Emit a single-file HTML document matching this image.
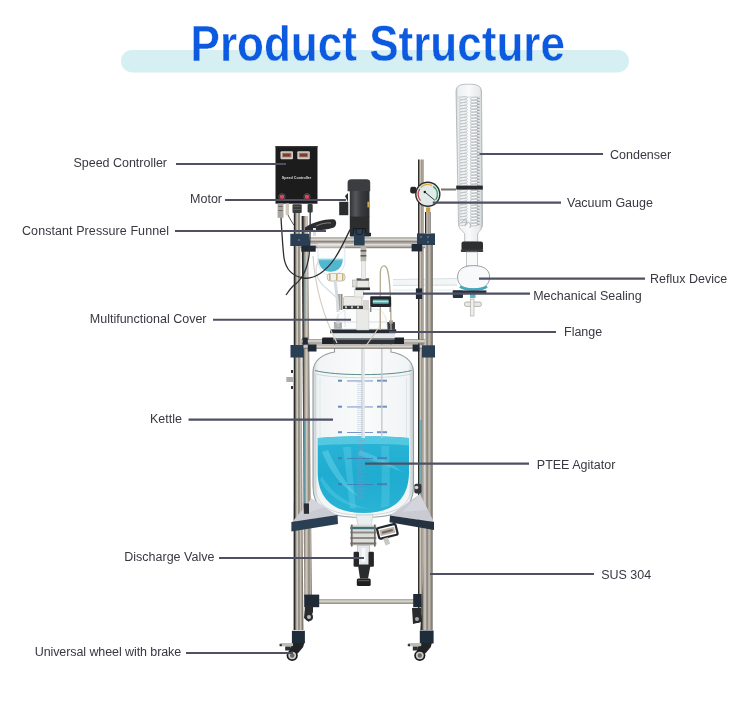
<!DOCTYPE html>
<html><head><meta charset="utf-8">
<style>
html,body{margin:0;padding:0;background:#fff;width:750px;height:709px;overflow:hidden}
svg{display:block;will-change:transform}
.lb{font-family:"Liberation Sans",sans-serif;font-size:12.5px;fill:#383842}
</style></head><body>
<svg width="750" height="709" viewBox="0 0 750 709">
<defs>
<linearGradient id="steel" x1="0" x2="1" y1="0" y2="0">
<stop offset="0" stop-color="#171716"/><stop offset="0.12" stop-color="#353330"/><stop offset="0.24" stop-color="#9d978d"/><stop offset="0.38" stop-color="#d6d1c8"/><stop offset="0.54" stop-color="#807b72"/><stop offset="0.7" stop-color="#c6c0b5"/><stop offset="0.86" stop-color="#958f85"/><stop offset="1" stop-color="#5b5751"/>
</linearGradient>
<linearGradient id="steel2" x1="0" x2="1" y1="0" y2="0">
<stop offset="0" stop-color="#151514"/><stop offset="0.16" stop-color="#42403b"/><stop offset="0.32" stop-color="#aba499"/><stop offset="0.5" stop-color="#d2ccc2"/><stop offset="0.7" stop-color="#898378"/><stop offset="0.88" stop-color="#b7b0a5"/><stop offset="1" stop-color="#6b665e"/>
</linearGradient>
<linearGradient id="steelh" x1="0" x2="0" y1="0" y2="1">
<stop offset="0" stop-color="#75716a"/><stop offset="0.35" stop-color="#e6e2dc"/><stop offset="0.7" stop-color="#b7b2aa"/><stop offset="1" stop-color="#716c65"/>
</linearGradient>
<linearGradient id="liq" x1="0" x2="0" y1="0" y2="1">
<stop offset="0" stop-color="#2ab5d6"/><stop offset="0.5" stop-color="#1eacd0"/><stop offset="1" stop-color="#2ab3d5"/>
</linearGradient>
<linearGradient id="liqh" x1="0" x2="1" y1="0" y2="0">
<stop offset="0" stop-color="#148fb0" stop-opacity="0.35"/><stop offset="0.15" stop-color="#4db6d2" stop-opacity="0"/><stop offset="0.85" stop-color="#4db6d2" stop-opacity="0"/><stop offset="1" stop-color="#148fb0" stop-opacity="0.35"/>
</linearGradient>
<linearGradient id="glass" x1="0" x2="1" y1="0" y2="0">
<stop offset="0" stop-color="#c9d1d4"/><stop offset="0.05" stop-color="#f1f4f5"/><stop offset="0.5" stop-color="#fafbfb"/><stop offset="0.95" stop-color="#f1f4f5"/><stop offset="1" stop-color="#c3cbce"/>
</linearGradient>
<linearGradient id="motor" x1="0" x2="1" y1="0" y2="0">
<stop offset="0" stop-color="#313335"/><stop offset="0.3" stop-color="#55585b"/><stop offset="0.55" stop-color="#3a3c3f"/><stop offset="1" stop-color="#2a2c2e"/>
</linearGradient>
<linearGradient id="cond" x1="0" x2="1" y1="0" y2="0">
<stop offset="0" stop-color="#c4cacd"/><stop offset="0.1" stop-color="#eef1f2"/><stop offset="0.5" stop-color="#f8f9f9"/><stop offset="0.9" stop-color="#e6e9ea"/><stop offset="1" stop-color="#b3babd"/>
</linearGradient>
<linearGradient id="haze" x1="0" x2="1" y1="0" y2="1">
<stop offset="0" stop-color="#f2f3f4" stop-opacity="0"/><stop offset="0.5" stop-color="#eceef0" stop-opacity="1"/><stop offset="1" stop-color="#f4f5f6" stop-opacity="0"/>
</linearGradient>
</defs>
<clipPath id="ctop"><rect x="0" y="0" width="750" height="50"/></clipPath>
<clipPath id="cbot"><rect x="0" y="50" width="750" height="30"/></clipPath>
<rect x="121" y="50" width="508" height="22.4" rx="11.2" fill="#d5eff3"/>
<g font-family="Liberation Sans" font-weight="bold" font-size="50" fill="#0b5ae0" stroke-width="0.45">
<text x="190.5" y="60.6" textLength="374.5" lengthAdjust="spacingAndGlyphs" stroke="#ffffff" clip-path="url(#ctop)">Product Structure</text>
<text x="190.5" y="60.6" textLength="374.5" lengthAdjust="spacingAndGlyphs" stroke="#d5eff3" clip-path="url(#cbot)">Product Structure</text>
</g>
<g id="machine">
<rect x="393" y="279" width="64" height="7" fill="#f3f6f7"/>
<path d="M393 279.5 L457 278.5 M393 285.5 L457 285" stroke="#d9e0e3" stroke-width="1" fill="none"/>
<path d="M393 290 L455 290" stroke="#e6ebed" stroke-width="1" fill="none"/>
<path d="M301.6 216 L307.8 216 L312 598 L304.3 598 Z" fill="url(#steel2)"/>
<rect x="418" y="159.5" width="5.5" height="452" fill="url(#steel2)"/>
<rect x="304" y="255" width="2" height="70" fill="#6fb3c2" opacity="0.35"/>
<rect x="303.5" y="420" width="2.2" height="90" fill="#3f9fb6" opacity="0.6"/>
<rect x="419.5" y="420" width="2.2" height="90" fill="#3f9fb6" opacity="0.6"/>
<path d="M334.5 343 L391 343 L391 352 C404 354 413.5 361 413.5 372 L413.5 486 C413.5 509 400 517.5 363 517.5 C326 517.5 313 509 313 486 L313 372 C313 361 322 354 334.5 352 Z" fill="url(#glass)" stroke="#949da1" stroke-width="1.1"/>
<path d="M315 370.5 C335 376 392 376 411.5 370.5" fill="none" stroke="#5d8c86" stroke-width="1"/>
<path d="M316 374 C335 379 392 379 411 374" fill="none" stroke="#bccfcf" stroke-width="0.7"/>
<path d="M315.6 374 L315.6 486 C315.6 506 330 515 363 515 C396 515 411 506 411 486 L411 374" fill="none" stroke="#c9d1d4" stroke-width="0.8"/>
<path d="M320 378 L320 480 M406.5 378 L406.5 480" stroke="#dfe5e7" stroke-width="1"/>
<path d="M317.7 438 C340 435.5 390 435.5 409 438 L409 472 C409 500 392 513 363.5 513 C335 513 317.7 500 317.7 472 Z" fill="url(#liq)"/>
<path d="M318 438 C340 435.5 390 435.5 409 438 L409 445.5 C390 443.5 340 443.5 318 445.5 Z" fill="#5ccbe3" opacity="0.85"/>
<path d="M343 447 C346 470 348 490 350 508 L356 509 C354 490 352 470 351 447 Z" fill="#6cd3ea" opacity="0.35"/>
<path d="M381 446 C382 470 382 490 381 508 L389 506 C390 490 390 470 389 446 Z" fill="#6cd3ea" opacity="0.3"/>
<path d="M322 452 C330 472 342 488 358 496 C346 484 336 468 328 450 Z" fill="#72d8ec" opacity="0.45"/>
<path d="M360 450 C372 455 388 460 402 472 C388 466 372 460 358 455 Z" fill="#72d8ec" opacity="0.4"/>
<path d="M320 480 C330 500 350 508 370 509 C350 505 332 495 322 476 Z" fill="#72d8ec" opacity="0.3"/>
<rect x="338" y="379.7" width="4" height="2" fill="#4a6fb3" opacity="0.8"/><rect x="347" y="380.5" width="26" height="0.9" fill="#4a6fb3" opacity="0.8"/><rect x="377" y="379.7" width="10" height="2" fill="#4a6fb3" opacity="0.75"/><rect x="338" y="405.7" width="4" height="2" fill="#4a6fb3" opacity="0.8"/><rect x="347" y="406.5" width="26" height="0.9" fill="#4a6fb3" opacity="0.8"/><rect x="377" y="405.7" width="10" height="2" fill="#4a6fb3" opacity="0.75"/><rect x="338" y="431.2" width="4" height="2" fill="#4a6fb3" opacity="0.8"/><rect x="347" y="432" width="26" height="0.9" fill="#4a6fb3" opacity="0.8"/><rect x="377" y="431.2" width="10" height="2" fill="#4a6fb3" opacity="0.75"/><rect x="338" y="457.2" width="4" height="2" fill="#4a6fb3" opacity="0.8"/><rect x="347" y="458" width="26" height="0.9" fill="#4a6fb3" opacity="0.8"/><rect x="377" y="457.2" width="10" height="2" fill="#4a6fb3" opacity="0.75"/><rect x="338" y="483.2" width="4" height="2" fill="#4a6fb3" opacity="0.8"/><rect x="347" y="484" width="26" height="0.9" fill="#4a6fb3" opacity="0.8"/><rect x="377" y="483.2" width="10" height="2" fill="#4a6fb3" opacity="0.75"/><rect x="357" y="382" width="5" height="0.5" fill="#7f9ccc" opacity="0.55"/><rect x="357" y="384" width="8" height="0.5" fill="#7f9ccc" opacity="0.55"/><rect x="357" y="386" width="5" height="0.5" fill="#7f9ccc" opacity="0.55"/><rect x="357" y="388" width="8" height="0.5" fill="#7f9ccc" opacity="0.55"/><rect x="357" y="390" width="5" height="0.5" fill="#7f9ccc" opacity="0.55"/><rect x="357" y="392" width="8" height="0.5" fill="#7f9ccc" opacity="0.55"/><rect x="357" y="394" width="5" height="0.5" fill="#7f9ccc" opacity="0.55"/><rect x="357" y="396" width="8" height="0.5" fill="#7f9ccc" opacity="0.55"/><rect x="357" y="398" width="5" height="0.5" fill="#7f9ccc" opacity="0.55"/><rect x="357" y="400" width="8" height="0.5" fill="#7f9ccc" opacity="0.55"/><rect x="357" y="402" width="5" height="0.5" fill="#7f9ccc" opacity="0.55"/><rect x="357" y="404" width="8" height="0.5" fill="#7f9ccc" opacity="0.55"/><rect x="357" y="406" width="5" height="0.5" fill="#7f9ccc" opacity="0.55"/><rect x="357" y="408" width="8" height="0.5" fill="#7f9ccc" opacity="0.55"/><rect x="357" y="410" width="5" height="0.5" fill="#7f9ccc" opacity="0.55"/><rect x="357" y="412" width="8" height="0.5" fill="#7f9ccc" opacity="0.55"/><rect x="357" y="414" width="5" height="0.5" fill="#7f9ccc" opacity="0.55"/><rect x="357" y="416" width="8" height="0.5" fill="#7f9ccc" opacity="0.55"/><rect x="357" y="418" width="5" height="0.5" fill="#7f9ccc" opacity="0.55"/><rect x="357" y="420" width="8" height="0.5" fill="#7f9ccc" opacity="0.55"/><rect x="357" y="422" width="5" height="0.5" fill="#7f9ccc" opacity="0.55"/><rect x="357" y="424" width="8" height="0.5" fill="#7f9ccc" opacity="0.55"/><rect x="357" y="426" width="5" height="0.5" fill="#7f9ccc" opacity="0.55"/><rect x="357" y="428" width="8" height="0.5" fill="#7f9ccc" opacity="0.55"/><rect x="357" y="430" width="5" height="0.5" fill="#7f9ccc" opacity="0.55"/><rect x="357" y="432" width="8" height="0.5" fill="#7f9ccc" opacity="0.55"/><rect x="357" y="434" width="5" height="0.5" fill="#7f9ccc" opacity="0.55"/><rect x="357" y="436" width="8" height="0.5" fill="#7f9ccc" opacity="0.55"/><rect x="357" y="438" width="5" height="0.5" fill="#7f9ccc" opacity="0.55"/><rect x="357" y="440" width="8" height="0.5" fill="#7f9ccc" opacity="0.55"/><rect x="357" y="442" width="5" height="0.5" fill="#7f9ccc" opacity="0.55"/><rect x="357" y="444" width="8" height="0.5" fill="#7f9ccc" opacity="0.55"/><rect x="357" y="446" width="5" height="0.5" fill="#7f9ccc" opacity="0.55"/><rect x="357" y="448" width="8" height="0.5" fill="#7f9ccc" opacity="0.55"/><rect x="357" y="450" width="5" height="0.5" fill="#7f9ccc" opacity="0.55"/><rect x="357" y="452" width="8" height="0.5" fill="#7f9ccc" opacity="0.55"/><rect x="357" y="454" width="5" height="0.5" fill="#7f9ccc" opacity="0.55"/><rect x="357" y="456" width="8" height="0.5" fill="#7f9ccc" opacity="0.55"/><rect x="357" y="458" width="5" height="0.5" fill="#7f9ccc" opacity="0.55"/><rect x="357" y="460" width="8" height="0.5" fill="#7f9ccc" opacity="0.55"/><rect x="357" y="462" width="5" height="0.5" fill="#7f9ccc" opacity="0.55"/><rect x="357" y="464" width="8" height="0.5" fill="#7f9ccc" opacity="0.55"/><rect x="357" y="466" width="5" height="0.5" fill="#7f9ccc" opacity="0.55"/><rect x="357" y="468" width="8" height="0.5" fill="#7f9ccc" opacity="0.55"/><rect x="357" y="470" width="5" height="0.5" fill="#7f9ccc" opacity="0.55"/><rect x="357" y="472" width="8" height="0.5" fill="#7f9ccc" opacity="0.55"/><rect x="357" y="474" width="5" height="0.5" fill="#7f9ccc" opacity="0.55"/><rect x="357" y="476" width="8" height="0.5" fill="#7f9ccc" opacity="0.55"/><rect x="357" y="478" width="5" height="0.5" fill="#7f9ccc" opacity="0.55"/><rect x="357" y="480" width="8" height="0.5" fill="#7f9ccc" opacity="0.55"/><rect x="357" y="482" width="5" height="0.5" fill="#7f9ccc" opacity="0.55"/><rect x="357" y="484" width="8" height="0.5" fill="#7f9ccc" opacity="0.55"/><rect x="357" y="486" width="5" height="0.5" fill="#7f9ccc" opacity="0.55"/><rect x="357" y="488" width="8" height="0.5" fill="#7f9ccc" opacity="0.55"/><rect x="357" y="490" width="5" height="0.5" fill="#7f9ccc" opacity="0.55"/><rect x="357" y="492" width="8" height="0.5" fill="#7f9ccc" opacity="0.55"/><rect x="357" y="494" width="5" height="0.5" fill="#7f9ccc" opacity="0.55"/><rect x="357" y="496" width="8" height="0.5" fill="#7f9ccc" opacity="0.55"/><rect x="357" y="498" width="5" height="0.5" fill="#7f9ccc" opacity="0.55"/>
<rect x="361.5" y="343" width="3.5" height="95" fill="#e3e7e8" opacity="0.9"/>
<rect x="361.5" y="343" width="0.8" height="95" fill="#b3bcbf" opacity="0.9"/>
<rect x="381" y="343" width="1.6" height="95" fill="#c2c8ca" opacity="0.85"/>
<rect x="414.3" y="483.8" width="7.2" height="9.7" rx="2" fill="#33363a"/>
<circle cx="416.5" cy="487.5" r="1.8" fill="#d9d9d9"/>
<rect x="300" y="237.5" width="125" height="4.5" fill="url(#steelh)"/>
<rect x="300" y="242.3" width="125" height="5.9" fill="url(#steelh)"/>
<rect x="300" y="339.3" width="125" height="4.3" fill="url(#steelh)"/>
<rect x="300" y="344.5" width="125" height="4.3" fill="url(#steelh)"/>
<rect x="312" y="599.4" width="106" height="4.4" fill="url(#steelh)"/>
<path d="M293.8 212 L300.2 212 L303.4 630 L293.6 630 Z" fill="url(#steel)"/>
<path d="M425.2 245 L432.8 245 L432.6 630 L420.4 630 L424 560 Z" fill="url(#steel)"/>
<rect x="290.3" y="233.8" width="18.7" height="12.2" fill="#2a3f54"/>
<rect x="301.3" y="245.7" width="14.4" height="6" fill="#1f2a36"/>
<rect x="417" y="233.4" width="18" height="11.6" fill="#2a3f54"/>
<rect x="411.6" y="244" width="10.6" height="7.4" fill="#1f2a36"/>
<circle cx="421" cy="237" r="0.8" fill="#8899aa"/><circle cx="428" cy="237" r="0.8" fill="#8899aa"/><circle cx="428" cy="242" r="0.8" fill="#8899aa"/>
<circle cx="299" cy="240" r="0.8" fill="#8899aa"/>
<rect x="290.5" y="345" width="13" height="12.5" fill="#2a3f54"/>
<rect x="307.8" y="344.5" width="8.7" height="7" fill="#1f2a36"/>
<rect x="302.6" y="337.5" width="5.2" height="7" fill="#1f2a36"/>
<rect x="422" y="345.3" width="13" height="12.2" fill="#2a3f54"/>
<rect x="412.6" y="344.5" width="7" height="7" fill="#1f2a36"/>
<rect x="304.2" y="594.6" width="15" height="12.6" fill="#1f2a36"/>
<rect x="413.2" y="594" width="8.4" height="13.2" fill="#1f2a36"/>
<rect x="415.9" y="288.4" width="6.3" height="10.6" fill="#1f2a36"/>
<path d="M311.4 498.6 L337.5 515.4 L292.2 522 Z" fill="#c9cad2"/><path d="M311.4 498.6 L325 507 L300 515 Z" fill="#d8d9df" opacity="0.7"/>
<path d="M419.8 494 L434 522 L390 515.5 Z" fill="#c9cad2"/><path d="M419.8 494 L428 510 L402 512 Z" fill="#d8d9df" opacity="0.7"/>
<rect x="303.8" y="503.4" width="5.2" height="10.4" fill="#2a2e33"/>
<path d="M291.4 522 L337.5 515 L338 524 L291.4 531.6 Z" fill="#2a3f54"/>
<path d="M390 515.5 L434 522 L434 530 L389.5 522.3 Z" fill="#273240"/>
<path d="M356 515 L372.9 515 L371 526 L358 526 Z" fill="#e9eef0" stroke="#b9c2c6" stroke-width="0.6"/>
<rect x="350.3" y="524.6" width="26" height="21" fill="#dcdcd8"/>
<rect x="350.3" y="526.8" width="26" height="2.4" fill="#3e6e78"/>
<rect x="350.3" y="531.5" width="26" height="2" fill="#8e8b85"/>
<rect x="350.3" y="537" width="26" height="2" fill="#8e8b85"/>
<rect x="350.3" y="542.5" width="26" height="2" fill="#77746e"/>
<rect x="351" y="524.6" width="1.6" height="22" fill="#6e6b66"/><rect x="374" y="524.6" width="1.6" height="22" fill="#6e6b66"/>
<rect x="357.6" y="545.5" width="11.9" height="20" fill="#e3e7e9" stroke="#a9b0b3" stroke-width="0.6"/>
<rect x="361.5" y="548" width="4" height="14" fill="#f6f8f8"/>
<rect x="353.6" y="551.7" width="5.4" height="15" rx="1.2" fill="#252628"/>
<rect x="368.5" y="551.7" width="5.4" height="15" rx="1.2" fill="#252628"/>
<path d="M357.9 564.5 L370.7 564.5 L368 578.4 L360 578.4 Z" fill="#2a2b2d"/>
<rect x="356.8" y="578.4" width="13.9" height="7.5" rx="1.5" fill="#1e1f21"/>
<rect x="358" y="580" width="11.5" height="1.2" fill="#555"/>
<g transform="rotate(-14 387 532)"><rect x="378" y="526" width="19" height="11" rx="1.5" fill="none" stroke="#23272c" stroke-width="2.2"/><rect x="380" y="528.5" width="15" height="6" fill="#b9b5ae"/><rect x="382" y="530.5" width="11" height="2" fill="#7b6356"/></g>
<rect x="384" y="538" width="5" height="7" fill="#c9c9c4" transform="rotate(-20 386 541)"/>
<rect x="291.9" y="630.8" width="13" height="12.5" fill="#1f2c3a"/>
<rect x="419.8" y="630.5" width="13.8" height="13" fill="#1f2c3a"/>
<path d="M291.7 643 L304.2 643 L303.2 647 L298.2 653 L293.2 656 L289.2 651 Z" fill="#222325"/>
<rect x="279.6" y="643" width="13.5" height="3.2" rx="1.2" fill="#bdbcb8"/>
<rect x="279.6" y="644.2" width="2.2" height="2" fill="#2a2a2a"/>
<rect x="285.2" y="646.5" width="5" height="4" fill="#2e2f31"/>
<ellipse cx="292.2" cy="655.5" rx="5.6" ry="5.4" fill="#1c1d1f"/>
<ellipse cx="292.2" cy="655.5" rx="3.9" ry="3.7" fill="#cfccc5"/>
<circle cx="292.2" cy="655.5" r="2.2" fill="#6a6966"/>
<path d="M419.3 643 L431.8 643 L430.8 647 L425.8 653 L420.8 656 L416.8 651 Z" fill="#222325"/>
<rect x="407.8" y="643" width="13.5" height="3.2" rx="1.2" fill="#bdbcb8"/>
<rect x="407.8" y="644.2" width="2.2" height="2" fill="#2a2a2a"/>
<rect x="412.8" y="646.5" width="5" height="4" fill="#2e2f31"/>
<ellipse cx="419.8" cy="655.5" rx="5.6" ry="5.4" fill="#1c1d1f"/>
<ellipse cx="419.8" cy="655.5" rx="3.9" ry="3.7" fill="#cfccc5"/>
<circle cx="419.8" cy="655.5" r="2.2" fill="#6a6966"/>
<path d="M305 606 L313 606 L313 612 L309 622 L304 618 Z" fill="#2a2b2d"/>
<circle cx="309" cy="617" r="4" fill="#2a2b2d"/><circle cx="309" cy="617" r="2" fill="#bbb"/>
<path d="M412 608 L421 608 L421 622 L413 624 Z" fill="#2a2b2d"/>
<circle cx="417" cy="619" r="4" fill="#2a2b2d"/><circle cx="417" cy="619" r="2" fill="#aaa"/>
<rect x="286.3" y="377" width="7" height="5" fill="#b0ada6"/><rect x="291" y="370" width="2" height="3" fill="#333"/><rect x="291" y="386" width="2" height="3" fill="#333"/>
<path d="M322 338.2 L400 338.2 L400 343.9 L322 343.9 Z" fill="#2f3338"/>
<path d="M330 339.5 L395 339.5" stroke="#a36a4a" stroke-width="0.9"/>
<rect x="322.5" y="337.5" width="10.5" height="6.5" fill="#1f2226"/>
<rect x="394.5" y="337.5" width="9.5" height="6.5" fill="#1f2226"/>
<rect x="333" y="333" width="62" height="5.2" fill="#e3e8ea"/>
<rect x="330.2" y="329.3" width="66" height="3.9" fill="#262b31"/>
<rect x="334" y="322" width="8" height="7.5" rx="1" fill="#3b3d40"/><rect x="336" y="320.5" width="4" height="3" fill="#999"/>
<rect x="387" y="322" width="8" height="7.5" rx="1" fill="#3b3d40"/><rect x="389" y="320.5" width="4" height="3" fill="#999"/>
<path d="M381 324 C376 332 370 340 365.6 346.4" fill="none" stroke="#cfc6b3" stroke-width="1.1"/>
<path d="M334 329 C334 318 340 310 350 309 L376 309 C384 310 387.3 318 387.3 329 Z" fill="#f8fafa" fill-opacity="0.6" stroke="#d0d7da" stroke-width="0.6"/>
<path d="M338 327 L338 314 M345 327 L345 311 M380 327 L380 312" stroke="#d3d9dc" stroke-width="0.8"/>
<path d="M336 322 L386 322" stroke="#d2d9dc" stroke-width="0.8"/>
<rect x="356.8" y="309" width="12.1" height="21" fill="#e9eae7" stroke="#bfc2c2" stroke-width="0.5"/>
<path d="M343.5 298 C343.5 296.5 345 296.5 347 296.5 L362 296.5 L362 306 L343.5 306 Z" fill="#ecebe7" stroke="#9f9b94" stroke-width="0.5"/>
<rect x="343" y="305.8" width="20" height="3.2" fill="#3a3c3f"/>
<rect x="345" y="306.3" width="2" height="2" fill="#ccc"/><rect x="351" y="306.3" width="2" height="2" fill="#ccc"/><rect x="357" y="306.3" width="2" height="2" fill="#ccc"/>
<rect x="337.8" y="294" width="2" height="16" fill="#8f8a80"/><rect x="340.5" y="294" width="2" height="16" fill="#8f8a80"/>
<rect x="363" y="300" width="6" height="10" fill="#d8d6d0"/>
<rect x="354.3" y="289" width="9.5" height="8" fill="#eeeeea" stroke="#b9b9b4" stroke-width="0.4"/>
<rect x="356.8" y="278.5" width="12.1" height="9.5" fill="#e8e8e4" stroke="#9f9b94" stroke-width="0.5"/>
<rect x="356.8" y="278.5" width="12.1" height="2.2" fill="#55575a"/>
<rect x="355.5" y="287.5" width="14.5" height="2.6" fill="#2e3033"/>
<rect x="352.4" y="280" width="4.6" height="7" fill="#dcdcd8" stroke="#8d8a84" stroke-width="0.4"/>
<path d="M380.3 330 L380.3 274 C380.3 264 386 264 387.5 270 C390 280 391 300 391 330" fill="none" stroke="#b3a98f" stroke-width="1.3"/>
<rect x="370.2" y="296.3" width="20.9" height="10.7" rx="1.2" fill="#23272c"/>
<rect x="372.8" y="299.5" width="15.8" height="4.3" fill="#5aaaa8"/>
<rect x="372.8" y="300.8" width="15.8" height="1.4" fill="#bfe0de"/>
<rect x="370" y="307" width="1.4" height="5" fill="#888"/><rect x="389.5" y="307" width="1.4" height="5" fill="#888"/>
<rect x="360.6" y="247" width="5.7" height="14.3" fill="#b9b6b0"/>
<rect x="360.6" y="250" width="5.7" height="1.6" fill="#5e5b56"/><rect x="360.6" y="255" width="5.7" height="1.6" fill="#5e5b56"/>
<rect x="361.3" y="261" width="4.4" height="18" fill="#ecedea" stroke="#c6c6c2" stroke-width="0.5"/>
<path d="M318 262 C314 270 316 280 326 288 L337 298" fill="none" stroke="#d5dcdf" stroke-width="1.1"/>
<path d="M318 243 L318 262 C319 272 327 275.5 331.5 275.5 C336 275.5 344 272 345 262 L344.5 243" fill="#f6f9fa" fill-opacity="0.35" stroke="#d3dadd" stroke-width="0.7"/>
<path d="M318.4 258.8 L342.8 258.8 C342.5 268 337 271.8 330.6 271.8 C324 271.8 318.8 268 318.4 258.8 Z" fill="#52b6cf"/>
<path d="M319 259.6 L342.5 259.6" stroke="#93d3e2" stroke-width="1.2"/>
<rect x="327.3" y="273.4" width="17.7" height="7.6" rx="3" fill="#f2f1ec" stroke="#aaa392" stroke-width="0.7"/>
<rect x="329" y="274" width="1.6" height="6.5" fill="#c9b27a"/><rect x="336" y="274" width="1.6" height="6.5" fill="#c9b27a"/><rect x="342" y="274" width="1.4" height="6.5" fill="#c9b27a"/>
<path d="M335 281 L337 296 L338 312" fill="none" stroke="#d5dcdf" stroke-width="3"/>
<path d="M305 227.5 C312 222 326 218.8 333 219.2 C337 219.6 337 225 334 227.5 C326 230.5 314 231 305 230 Z" fill="#2a2c2e"/>
<path d="M316 226 C321 223.5 327 222.5 331 223" stroke="#8a8a8a" stroke-width="0.9" fill="none"/>
<rect x="313" y="228" width="3" height="8" fill="#ddd"/>
<path d="M313 256 C315 285 321 312 337 343" fill="none" stroke="#d6d0c2" stroke-width="1.2"/>
<rect x="275.5" y="146" width="42" height="57.7" fill="#1c1c1d"/>
<rect x="275.5" y="146" width="42" height="1.2" fill="#3a3a3a"/>
<rect x="280.5" y="151.3" width="12.5" height="7.9" rx="1" fill="#cfcdca"/>
<rect x="282.0" y="152.8" width="9.5" height="4.6" fill="#b08878"/>
<rect x="283.0" y="153.6" width="7.5" height="3" fill="#7a3e30"/>
<rect x="297.3" y="151.3" width="12.5" height="7.9" rx="1" fill="#cfcdca"/>
<rect x="298.8" y="152.8" width="9.5" height="4.6" fill="#b08878"/>
<rect x="299.8" y="153.6" width="7.5" height="3" fill="#7a3e30"/>
<text x="296.5" y="179.2" font-family="Liberation Sans" font-size="4.4" fill="#dcdcdc" text-anchor="middle" font-weight="bold" textLength="29.5" lengthAdjust="spacingAndGlyphs">Speed Controller</text>
<circle cx="282" cy="196.8" r="2.3" fill="#e24455"/><circle cx="282" cy="196.8" r="3.2" fill="none" stroke="#5a5f62" stroke-width="0.8"/>
<circle cx="307" cy="196.8" r="2.3" fill="#e24455"/><circle cx="307" cy="196.8" r="3.2" fill="none" stroke="#5a5f62" stroke-width="0.8"/>
<rect x="277.6" y="203.4" width="5.9" height="14.4" fill="#a7a49d"/><rect x="278.5" y="206" width="4" height="1" fill="#666"/><rect x="278.5" y="210" width="4" height="1" fill="#666"/>
<rect x="285.6" y="203.4" width="3.4" height="11.6" fill="#cfc8b6"/>
<rect x="292.5" y="204.2" width="9.2" height="8.7" rx="1" fill="#3a3b3c"/><rect x="293.5" y="206" width="7" height="0.8" fill="#666"/><rect x="293.5" y="209" width="7" height="0.8" fill="#666"/>
<path d="M288 215 C290 219 292 222 294 225.3" stroke="#3a3a3a" stroke-width="0.9" fill="none"/>
<rect x="307.6" y="204" width="5.1" height="8.5" rx="1" fill="#3a3b3c"/>
<path d="M281 217.8 C282 235 283 250 284 258 C286 270 292 276 303 278 C315 280 327 270 335 258 C341 249 346 238 350 229.6" fill="none" stroke="#2d2e30" stroke-width="1.3"/>
<path d="M310.2 212 C310.2 230 310 245 309 256 C307 270 302 280 293 286 C290 289 288 292 286 295" fill="none" stroke="#2d2e30" stroke-width="1.3"/>
<path d="M345 196 L348 193 L348 202 Z" fill="#2a2a2a"/>
<rect x="339.2" y="201.8" width="9.1" height="13.4" fill="#2b2c2e"/>
<path d="M347.6 183 C347.6 180 349 179.2 352 179.2 L366 179.2 C369 179.2 370.2 180 370.2 183 L370.2 191.2 L347.6 191.2 Z" fill="#3b3d40"/>
<rect x="349.8" y="191" width="19.7" height="26" fill="url(#motor)"/>
<rect x="367.4" y="201.7" width="2" height="5.7" fill="#c9a64a"/>
<rect x="349.8" y="216.6" width="19.7" height="19.7" fill="#2c2d2f"/>
<rect x="353" y="228" width="13" height="8" fill="#1b1c1e"/>
<rect x="350.5" y="232.8" width="20.5" height="3.5" fill="#1e2a36"/>
<rect x="354" y="229.3" width="10.6" height="16.2" fill="#2a3f54"/>
<path d="M356 229.3 L356 233 C356 235 362.6 235 362.6 233 L362.6 229.3" fill="none" stroke="#111" stroke-width="0.8"/>
<path d="M456 92 C456 85.5 460 84.2 468.5 84.2 C477 84.2 481.5 85.5 481.5 92 L482.5 224 C482.5 230 477.7 232 477.7 234 L477.7 242 L464.7 242 L464.7 234 C464.7 232 458.5 230 458.5 224 Z" fill="url(#cond)" stroke="#aab2b5" stroke-width="0.8"/>
<ellipse cx="463.2" cy="98" rx="4.3" ry="1.35" fill="#f7f8f8" stroke="#b4bbbe" stroke-width="0.75" transform="rotate(-6 463.2 98)"/><ellipse cx="474" cy="98.6" rx="4.3" ry="1.35" fill="#f7f8f8" stroke="#aeb5b8" stroke-width="0.75" transform="rotate(-6 474 98.6)"/><rect x="477" y="97.6" width="2.8" height="1.5" fill="#959da1" opacity="0.7"/><ellipse cx="463.2" cy="101" rx="4.3" ry="1.35" fill="#f7f8f8" stroke="#b4bbbe" stroke-width="0.75" transform="rotate(-6 463.2 101)"/><ellipse cx="474" cy="101.6" rx="4.3" ry="1.35" fill="#f7f8f8" stroke="#aeb5b8" stroke-width="0.75" transform="rotate(-6 474 101.6)"/><rect x="477" y="100.6" width="2.8" height="1.5" fill="#959da1" opacity="0.7"/><ellipse cx="463.2" cy="104" rx="4.3" ry="1.35" fill="#f7f8f8" stroke="#b4bbbe" stroke-width="0.75" transform="rotate(-6 463.2 104)"/><ellipse cx="474" cy="104.6" rx="4.3" ry="1.35" fill="#f7f8f8" stroke="#aeb5b8" stroke-width="0.75" transform="rotate(-6 474 104.6)"/><rect x="477" y="103.6" width="2.8" height="1.5" fill="#959da1" opacity="0.7"/><ellipse cx="463.2" cy="107" rx="4.3" ry="1.35" fill="#f7f8f8" stroke="#b4bbbe" stroke-width="0.75" transform="rotate(-6 463.2 107)"/><ellipse cx="474" cy="107.6" rx="4.3" ry="1.35" fill="#f7f8f8" stroke="#aeb5b8" stroke-width="0.75" transform="rotate(-6 474 107.6)"/><rect x="477" y="106.6" width="2.8" height="1.5" fill="#959da1" opacity="0.7"/><ellipse cx="463.2" cy="110" rx="4.3" ry="1.35" fill="#f7f8f8" stroke="#b4bbbe" stroke-width="0.75" transform="rotate(-6 463.2 110)"/><ellipse cx="474" cy="110.6" rx="4.3" ry="1.35" fill="#f7f8f8" stroke="#aeb5b8" stroke-width="0.75" transform="rotate(-6 474 110.6)"/><rect x="477" y="109.6" width="2.8" height="1.5" fill="#959da1" opacity="0.7"/><ellipse cx="463.2" cy="113" rx="4.3" ry="1.35" fill="#f7f8f8" stroke="#b4bbbe" stroke-width="0.75" transform="rotate(-6 463.2 113)"/><ellipse cx="474" cy="113.6" rx="4.3" ry="1.35" fill="#f7f8f8" stroke="#aeb5b8" stroke-width="0.75" transform="rotate(-6 474 113.6)"/><rect x="477" y="112.6" width="2.8" height="1.5" fill="#959da1" opacity="0.7"/><ellipse cx="463.2" cy="116" rx="4.3" ry="1.35" fill="#f7f8f8" stroke="#b4bbbe" stroke-width="0.75" transform="rotate(-6 463.2 116)"/><ellipse cx="474" cy="116.6" rx="4.3" ry="1.35" fill="#f7f8f8" stroke="#aeb5b8" stroke-width="0.75" transform="rotate(-6 474 116.6)"/><rect x="477" y="115.6" width="2.8" height="1.5" fill="#959da1" opacity="0.7"/><ellipse cx="463.2" cy="119" rx="4.3" ry="1.35" fill="#f7f8f8" stroke="#b4bbbe" stroke-width="0.75" transform="rotate(-6 463.2 119)"/><ellipse cx="474" cy="119.6" rx="4.3" ry="1.35" fill="#f7f8f8" stroke="#aeb5b8" stroke-width="0.75" transform="rotate(-6 474 119.6)"/><rect x="477" y="118.6" width="2.8" height="1.5" fill="#959da1" opacity="0.7"/><ellipse cx="463.2" cy="122" rx="4.3" ry="1.35" fill="#f7f8f8" stroke="#b4bbbe" stroke-width="0.75" transform="rotate(-6 463.2 122)"/><ellipse cx="474" cy="122.6" rx="4.3" ry="1.35" fill="#f7f8f8" stroke="#aeb5b8" stroke-width="0.75" transform="rotate(-6 474 122.6)"/><rect x="477" y="121.6" width="2.8" height="1.5" fill="#959da1" opacity="0.7"/><ellipse cx="463.2" cy="125" rx="4.3" ry="1.35" fill="#f7f8f8" stroke="#b4bbbe" stroke-width="0.75" transform="rotate(-6 463.2 125)"/><ellipse cx="474" cy="125.6" rx="4.3" ry="1.35" fill="#f7f8f8" stroke="#aeb5b8" stroke-width="0.75" transform="rotate(-6 474 125.6)"/><rect x="477" y="124.6" width="2.8" height="1.5" fill="#959da1" opacity="0.7"/><ellipse cx="463.2" cy="128" rx="4.3" ry="1.35" fill="#f7f8f8" stroke="#b4bbbe" stroke-width="0.75" transform="rotate(-6 463.2 128)"/><ellipse cx="474" cy="128.6" rx="4.3" ry="1.35" fill="#f7f8f8" stroke="#aeb5b8" stroke-width="0.75" transform="rotate(-6 474 128.6)"/><rect x="477" y="127.6" width="2.8" height="1.5" fill="#959da1" opacity="0.7"/><ellipse cx="463.2" cy="131" rx="4.3" ry="1.35" fill="#f7f8f8" stroke="#b4bbbe" stroke-width="0.75" transform="rotate(-6 463.2 131)"/><ellipse cx="474" cy="131.6" rx="4.3" ry="1.35" fill="#f7f8f8" stroke="#aeb5b8" stroke-width="0.75" transform="rotate(-6 474 131.6)"/><rect x="477" y="130.6" width="2.8" height="1.5" fill="#959da1" opacity="0.7"/><ellipse cx="463.2" cy="134" rx="4.3" ry="1.35" fill="#f7f8f8" stroke="#b4bbbe" stroke-width="0.75" transform="rotate(-6 463.2 134)"/><ellipse cx="474" cy="134.6" rx="4.3" ry="1.35" fill="#f7f8f8" stroke="#aeb5b8" stroke-width="0.75" transform="rotate(-6 474 134.6)"/><rect x="477" y="133.6" width="2.8" height="1.5" fill="#959da1" opacity="0.7"/><ellipse cx="463.2" cy="137" rx="4.3" ry="1.35" fill="#f7f8f8" stroke="#b4bbbe" stroke-width="0.75" transform="rotate(-6 463.2 137)"/><ellipse cx="474" cy="137.6" rx="4.3" ry="1.35" fill="#f7f8f8" stroke="#aeb5b8" stroke-width="0.75" transform="rotate(-6 474 137.6)"/><rect x="477" y="136.6" width="2.8" height="1.5" fill="#959da1" opacity="0.7"/><ellipse cx="463.2" cy="140" rx="4.3" ry="1.35" fill="#f7f8f8" stroke="#b4bbbe" stroke-width="0.75" transform="rotate(-6 463.2 140)"/><ellipse cx="474" cy="140.6" rx="4.3" ry="1.35" fill="#f7f8f8" stroke="#aeb5b8" stroke-width="0.75" transform="rotate(-6 474 140.6)"/><rect x="477" y="139.6" width="2.8" height="1.5" fill="#959da1" opacity="0.7"/><ellipse cx="463.2" cy="143" rx="4.3" ry="1.35" fill="#f7f8f8" stroke="#b4bbbe" stroke-width="0.75" transform="rotate(-6 463.2 143)"/><ellipse cx="474" cy="143.6" rx="4.3" ry="1.35" fill="#f7f8f8" stroke="#aeb5b8" stroke-width="0.75" transform="rotate(-6 474 143.6)"/><rect x="477" y="142.6" width="2.8" height="1.5" fill="#959da1" opacity="0.7"/><ellipse cx="463.2" cy="146" rx="4.3" ry="1.35" fill="#f7f8f8" stroke="#b4bbbe" stroke-width="0.75" transform="rotate(-6 463.2 146)"/><ellipse cx="474" cy="146.6" rx="4.3" ry="1.35" fill="#f7f8f8" stroke="#aeb5b8" stroke-width="0.75" transform="rotate(-6 474 146.6)"/><rect x="477" y="145.6" width="2.8" height="1.5" fill="#959da1" opacity="0.7"/><ellipse cx="463.2" cy="149" rx="4.3" ry="1.35" fill="#f7f8f8" stroke="#b4bbbe" stroke-width="0.75" transform="rotate(-6 463.2 149)"/><ellipse cx="474" cy="149.6" rx="4.3" ry="1.35" fill="#f7f8f8" stroke="#aeb5b8" stroke-width="0.75" transform="rotate(-6 474 149.6)"/><rect x="477" y="148.6" width="2.8" height="1.5" fill="#959da1" opacity="0.7"/><ellipse cx="463.2" cy="152" rx="4.3" ry="1.35" fill="#f7f8f8" stroke="#b4bbbe" stroke-width="0.75" transform="rotate(-6 463.2 152)"/><ellipse cx="474" cy="152.6" rx="4.3" ry="1.35" fill="#f7f8f8" stroke="#aeb5b8" stroke-width="0.75" transform="rotate(-6 474 152.6)"/><rect x="477" y="151.6" width="2.8" height="1.5" fill="#959da1" opacity="0.7"/><ellipse cx="463.2" cy="155" rx="4.3" ry="1.35" fill="#f7f8f8" stroke="#b4bbbe" stroke-width="0.75" transform="rotate(-6 463.2 155)"/><ellipse cx="474" cy="155.6" rx="4.3" ry="1.35" fill="#f7f8f8" stroke="#aeb5b8" stroke-width="0.75" transform="rotate(-6 474 155.6)"/><rect x="477" y="154.6" width="2.8" height="1.5" fill="#959da1" opacity="0.7"/><ellipse cx="463.2" cy="158" rx="4.3" ry="1.35" fill="#f7f8f8" stroke="#b4bbbe" stroke-width="0.75" transform="rotate(-6 463.2 158)"/><ellipse cx="474" cy="158.6" rx="4.3" ry="1.35" fill="#f7f8f8" stroke="#aeb5b8" stroke-width="0.75" transform="rotate(-6 474 158.6)"/><rect x="477" y="157.6" width="2.8" height="1.5" fill="#959da1" opacity="0.7"/><ellipse cx="463.2" cy="161" rx="4.3" ry="1.35" fill="#f7f8f8" stroke="#b4bbbe" stroke-width="0.75" transform="rotate(-6 463.2 161)"/><ellipse cx="474" cy="161.6" rx="4.3" ry="1.35" fill="#f7f8f8" stroke="#aeb5b8" stroke-width="0.75" transform="rotate(-6 474 161.6)"/><rect x="477" y="160.6" width="2.8" height="1.5" fill="#959da1" opacity="0.7"/><ellipse cx="463.2" cy="164" rx="4.3" ry="1.35" fill="#f7f8f8" stroke="#b4bbbe" stroke-width="0.75" transform="rotate(-6 463.2 164)"/><ellipse cx="474" cy="164.6" rx="4.3" ry="1.35" fill="#f7f8f8" stroke="#aeb5b8" stroke-width="0.75" transform="rotate(-6 474 164.6)"/><rect x="477" y="163.6" width="2.8" height="1.5" fill="#959da1" opacity="0.7"/><ellipse cx="463.2" cy="167" rx="4.3" ry="1.35" fill="#f7f8f8" stroke="#b4bbbe" stroke-width="0.75" transform="rotate(-6 463.2 167)"/><ellipse cx="474" cy="167.6" rx="4.3" ry="1.35" fill="#f7f8f8" stroke="#aeb5b8" stroke-width="0.75" transform="rotate(-6 474 167.6)"/><rect x="477" y="166.6" width="2.8" height="1.5" fill="#959da1" opacity="0.7"/><ellipse cx="463.2" cy="170" rx="4.3" ry="1.35" fill="#f7f8f8" stroke="#b4bbbe" stroke-width="0.75" transform="rotate(-6 463.2 170)"/><ellipse cx="474" cy="170.6" rx="4.3" ry="1.35" fill="#f7f8f8" stroke="#aeb5b8" stroke-width="0.75" transform="rotate(-6 474 170.6)"/><rect x="477" y="169.6" width="2.8" height="1.5" fill="#959da1" opacity="0.7"/><ellipse cx="463.2" cy="173" rx="4.3" ry="1.35" fill="#f7f8f8" stroke="#b4bbbe" stroke-width="0.75" transform="rotate(-6 463.2 173)"/><ellipse cx="474" cy="173.6" rx="4.3" ry="1.35" fill="#f7f8f8" stroke="#aeb5b8" stroke-width="0.75" transform="rotate(-6 474 173.6)"/><rect x="477" y="172.6" width="2.8" height="1.5" fill="#959da1" opacity="0.7"/><ellipse cx="463.2" cy="176" rx="4.3" ry="1.35" fill="#f7f8f8" stroke="#b4bbbe" stroke-width="0.75" transform="rotate(-6 463.2 176)"/><ellipse cx="474" cy="176.6" rx="4.3" ry="1.35" fill="#f7f8f8" stroke="#aeb5b8" stroke-width="0.75" transform="rotate(-6 474 176.6)"/><rect x="477" y="175.6" width="2.8" height="1.5" fill="#959da1" opacity="0.7"/><ellipse cx="463.2" cy="179" rx="4.3" ry="1.35" fill="#f7f8f8" stroke="#b4bbbe" stroke-width="0.75" transform="rotate(-6 463.2 179)"/><ellipse cx="474" cy="179.6" rx="4.3" ry="1.35" fill="#f7f8f8" stroke="#aeb5b8" stroke-width="0.75" transform="rotate(-6 474 179.6)"/><rect x="477" y="178.6" width="2.8" height="1.5" fill="#959da1" opacity="0.7"/><ellipse cx="463.2" cy="182" rx="4.3" ry="1.35" fill="#f7f8f8" stroke="#b4bbbe" stroke-width="0.75" transform="rotate(-6 463.2 182)"/><ellipse cx="474" cy="182.6" rx="4.3" ry="1.35" fill="#f7f8f8" stroke="#aeb5b8" stroke-width="0.75" transform="rotate(-6 474 182.6)"/><rect x="477" y="181.6" width="2.8" height="1.5" fill="#959da1" opacity="0.7"/><ellipse cx="463.2" cy="185" rx="4.3" ry="1.35" fill="#f7f8f8" stroke="#b4bbbe" stroke-width="0.75" transform="rotate(-6 463.2 185)"/><ellipse cx="474" cy="185.6" rx="4.3" ry="1.35" fill="#f7f8f8" stroke="#aeb5b8" stroke-width="0.75" transform="rotate(-6 474 185.6)"/><rect x="477" y="184.6" width="2.8" height="1.5" fill="#959da1" opacity="0.7"/><ellipse cx="463.2" cy="188" rx="4.3" ry="1.35" fill="#f7f8f8" stroke="#b4bbbe" stroke-width="0.75" transform="rotate(-6 463.2 188)"/><ellipse cx="474" cy="188.6" rx="4.3" ry="1.35" fill="#f7f8f8" stroke="#aeb5b8" stroke-width="0.75" transform="rotate(-6 474 188.6)"/><rect x="477" y="187.6" width="2.8" height="1.5" fill="#959da1" opacity="0.7"/><ellipse cx="463.2" cy="191" rx="4.3" ry="1.35" fill="#f7f8f8" stroke="#b4bbbe" stroke-width="0.75" transform="rotate(-6 463.2 191)"/><ellipse cx="474" cy="191.6" rx="4.3" ry="1.35" fill="#f7f8f8" stroke="#aeb5b8" stroke-width="0.75" transform="rotate(-6 474 191.6)"/><rect x="477" y="190.6" width="2.8" height="1.5" fill="#959da1" opacity="0.7"/><ellipse cx="463.2" cy="194" rx="4.3" ry="1.35" fill="#f7f8f8" stroke="#b4bbbe" stroke-width="0.75" transform="rotate(-6 463.2 194)"/><ellipse cx="474" cy="194.6" rx="4.3" ry="1.35" fill="#f7f8f8" stroke="#aeb5b8" stroke-width="0.75" transform="rotate(-6 474 194.6)"/><rect x="477" y="193.6" width="2.8" height="1.5" fill="#959da1" opacity="0.7"/><ellipse cx="463.2" cy="197" rx="4.3" ry="1.35" fill="#f7f8f8" stroke="#b4bbbe" stroke-width="0.75" transform="rotate(-6 463.2 197)"/><ellipse cx="474" cy="197.6" rx="4.3" ry="1.35" fill="#f7f8f8" stroke="#aeb5b8" stroke-width="0.75" transform="rotate(-6 474 197.6)"/><rect x="477" y="196.6" width="2.8" height="1.5" fill="#959da1" opacity="0.7"/><ellipse cx="463.2" cy="200" rx="4.3" ry="1.35" fill="#f7f8f8" stroke="#b4bbbe" stroke-width="0.75" transform="rotate(-6 463.2 200)"/><ellipse cx="474" cy="200.6" rx="4.3" ry="1.35" fill="#f7f8f8" stroke="#aeb5b8" stroke-width="0.75" transform="rotate(-6 474 200.6)"/><rect x="477" y="199.6" width="2.8" height="1.5" fill="#959da1" opacity="0.7"/><ellipse cx="463.2" cy="203" rx="4.3" ry="1.35" fill="#f7f8f8" stroke="#b4bbbe" stroke-width="0.75" transform="rotate(-6 463.2 203)"/><ellipse cx="474" cy="203.6" rx="4.3" ry="1.35" fill="#f7f8f8" stroke="#aeb5b8" stroke-width="0.75" transform="rotate(-6 474 203.6)"/><rect x="477" y="202.6" width="2.8" height="1.5" fill="#959da1" opacity="0.7"/><ellipse cx="463.2" cy="206" rx="4.3" ry="1.35" fill="#f7f8f8" stroke="#b4bbbe" stroke-width="0.75" transform="rotate(-6 463.2 206)"/><ellipse cx="474" cy="206.6" rx="4.3" ry="1.35" fill="#f7f8f8" stroke="#aeb5b8" stroke-width="0.75" transform="rotate(-6 474 206.6)"/><rect x="477" y="205.6" width="2.8" height="1.5" fill="#959da1" opacity="0.7"/><ellipse cx="463.2" cy="209" rx="4.3" ry="1.35" fill="#f7f8f8" stroke="#b4bbbe" stroke-width="0.75" transform="rotate(-6 463.2 209)"/><ellipse cx="474" cy="209.6" rx="4.3" ry="1.35" fill="#f7f8f8" stroke="#aeb5b8" stroke-width="0.75" transform="rotate(-6 474 209.6)"/><rect x="477" y="208.6" width="2.8" height="1.5" fill="#959da1" opacity="0.7"/><ellipse cx="463.2" cy="212" rx="4.3" ry="1.35" fill="#f7f8f8" stroke="#b4bbbe" stroke-width="0.75" transform="rotate(-6 463.2 212)"/><ellipse cx="474" cy="212.6" rx="4.3" ry="1.35" fill="#f7f8f8" stroke="#aeb5b8" stroke-width="0.75" transform="rotate(-6 474 212.6)"/><rect x="477" y="211.6" width="2.8" height="1.5" fill="#959da1" opacity="0.7"/><ellipse cx="463.2" cy="215" rx="4.3" ry="1.35" fill="#f7f8f8" stroke="#b4bbbe" stroke-width="0.75" transform="rotate(-6 463.2 215)"/><ellipse cx="474" cy="215.6" rx="4.3" ry="1.35" fill="#f7f8f8" stroke="#aeb5b8" stroke-width="0.75" transform="rotate(-6 474 215.6)"/><rect x="477" y="214.6" width="2.8" height="1.5" fill="#959da1" opacity="0.7"/><ellipse cx="463.2" cy="218" rx="4.3" ry="1.35" fill="#f7f8f8" stroke="#b4bbbe" stroke-width="0.75" transform="rotate(-6 463.2 218)"/><ellipse cx="474" cy="218.6" rx="4.3" ry="1.35" fill="#f7f8f8" stroke="#aeb5b8" stroke-width="0.75" transform="rotate(-6 474 218.6)"/><rect x="477" y="217.6" width="2.8" height="1.5" fill="#959da1" opacity="0.7"/><ellipse cx="463.2" cy="221" rx="4.3" ry="1.35" fill="#f7f8f8" stroke="#b4bbbe" stroke-width="0.75" transform="rotate(-6 463.2 221)"/><ellipse cx="474" cy="221.6" rx="4.3" ry="1.35" fill="#f7f8f8" stroke="#aeb5b8" stroke-width="0.75" transform="rotate(-6 474 221.6)"/><rect x="477" y="220.6" width="2.8" height="1.5" fill="#959da1" opacity="0.7"/><ellipse cx="463.2" cy="224" rx="4.3" ry="1.35" fill="#f7f8f8" stroke="#b4bbbe" stroke-width="0.75" transform="rotate(-6 463.2 224)"/><ellipse cx="474" cy="224.6" rx="4.3" ry="1.35" fill="#f7f8f8" stroke="#aeb5b8" stroke-width="0.75" transform="rotate(-6 474 224.6)"/><rect x="477" y="223.6" width="2.8" height="1.5" fill="#959da1" opacity="0.7"/>
<rect x="467.8" y="86" width="2.4" height="140" fill="#f9fafa" opacity="0.9"/>
<path d="M456.5 97 L481.5 97" stroke="#cfd5d7" stroke-width="0.8"/>
<path d="M465 226 C467 220 472 222 470 228 M462 222 C465 218 468 220 466 224" stroke="#a8b0b3" stroke-width="0.9" fill="none"/>
<rect x="441" y="188.5" width="15" height="2" fill="#77736c"/>
<rect x="456.2" y="185.6" width="26.6" height="4" fill="#2a2b2d"/>
<rect x="461.5" y="241.6" width="21.5" height="8.6" rx="2" fill="#2d2f31"/>
<rect x="460.8" y="249.2" width="22.4" height="2.8" rx="1" fill="#3a3c3e"/>
<rect x="466.4" y="252" width="11.2" height="14" fill="#f8fafa" stroke="#a9b1b4" stroke-width="0.7"/>
<path d="M457.6 277 C457.6 269 464 265.6 473.5 265.6 C483 265.6 489.6 269 489.6 277 C489.6 285 484 289 473.5 289 C463 289 457.6 285 457.6 277 Z" fill="#f7f9fa" stroke="#98a1a5" stroke-width="1"/>
<path d="M460 286.5 C465 290.5 482 290.5 487 286.5" fill="none" stroke="#3fa9c2" stroke-width="2.4"/>
<rect x="452.8" y="290.4" width="33.6" height="3.2" fill="#26313c"/>
<rect x="452.8" y="290.4" width="10.2" height="7.6" rx="1" fill="#26313c"/>
<rect x="470" y="293" width="5.5" height="5" fill="#5fb6c9"/>
<rect x="464.5" y="302" width="16.9" height="4.4" rx="1.8" fill="#e8e8e4" stroke="#8f8b85" stroke-width="0.6"/>
<rect x="470.5" y="299" width="3.5" height="17" fill="#eeeeea" stroke="#9d9993" stroke-width="0.5"/>
<rect x="425" y="212" width="5.7" height="21.5" fill="url(#steel)"/>
<rect x="426" y="207.3" width="4.3" height="5" fill="#c99e45"/>
<rect x="410.2" y="186.7" width="6.3" height="6.8" rx="2.2" fill="#262728"/>
<circle cx="427.8" cy="194.2" r="12.7" fill="#2a2c2e"/>
<circle cx="427.8" cy="194.2" r="11.3" fill="#e0eae8"/>
<path d="M420.6 200.6 A9.6 9.6 0 0 1 419.8 188.8" fill="none" stroke="#cf3a3c" stroke-width="1.2"/>
<path d="M420.6 187.6 A9.6 9.6 0 0 1 432 185.6" fill="none" stroke="#e3a93a" stroke-width="1.2"/>
<path d="M433.2 186.4 A9.6 9.6 0 0 1 435.6 200" fill="none" stroke="#2f9a5a" stroke-width="1.2"/>
<line x1="424.6" y1="191.8" x2="434.8" y2="200.3" stroke="#26282a" stroke-width="0.9"/>
<circle cx="424.8" cy="192" r="1.2" fill="#1c1d1e"/>
</g>
<g stroke="#4f5064" stroke-width="2.1">
<line x1="176" y1="164" x2="286" y2="164"/>
<line x1="225" y1="200" x2="346" y2="200"/>
<line x1="175" y1="231" x2="326" y2="231"/>
<line x1="213" y1="319.7" x2="351" y2="319.7"/>
<line x1="188.5" y1="419.6" x2="333" y2="419.6"/>
<line x1="219" y1="558" x2="364" y2="558"/>
<line x1="186" y1="653" x2="293" y2="653"/>
<line x1="479.5" y1="154" x2="603" y2="154"/>
<line x1="432.8" y1="202.6" x2="561" y2="202.6"/>
<line x1="479" y1="278.6" x2="645" y2="278.6"/>
<line x1="363" y1="293.6" x2="530" y2="293.6"/>
<line x1="389" y1="332" x2="556" y2="332"/>
<line x1="365" y1="463.6" x2="529" y2="463.6"/>
<line x1="430" y1="574" x2="594" y2="574"/>
</g>
<g class="lb">
<text x="167" y="167.3" text-anchor="end" textLength="93.5">Speed Controller</text>
<text x="222" y="202.5" text-anchor="end">Motor</text>
<text x="169" y="234.5" text-anchor="end" textLength="147">Constant Pressure Funnel</text>
<text x="206.5" y="322.6" text-anchor="end">Multifunctional Cover</text>
<text x="182" y="422.5" text-anchor="end">Kettle</text>
<text x="214.4" y="561.3" text-anchor="end">Discharge Valve</text>
<text x="181.2" y="656" text-anchor="end" textLength="146.5">Universal wheel with brake</text>
<text x="610" y="159">Condenser</text>
<text x="567" y="206.5">Vacuum Gauge</text>
<text x="650" y="283">Reflux Device</text>
<text x="533.2" y="299.8">Mechanical Sealing</text>
<text x="564" y="336.4">Flange</text>
<text x="536.8" y="468.8">PTEE Agitator</text>
<text x="601.2" y="578.8">SUS 304</text>
</g>
</svg>
</body></html>
